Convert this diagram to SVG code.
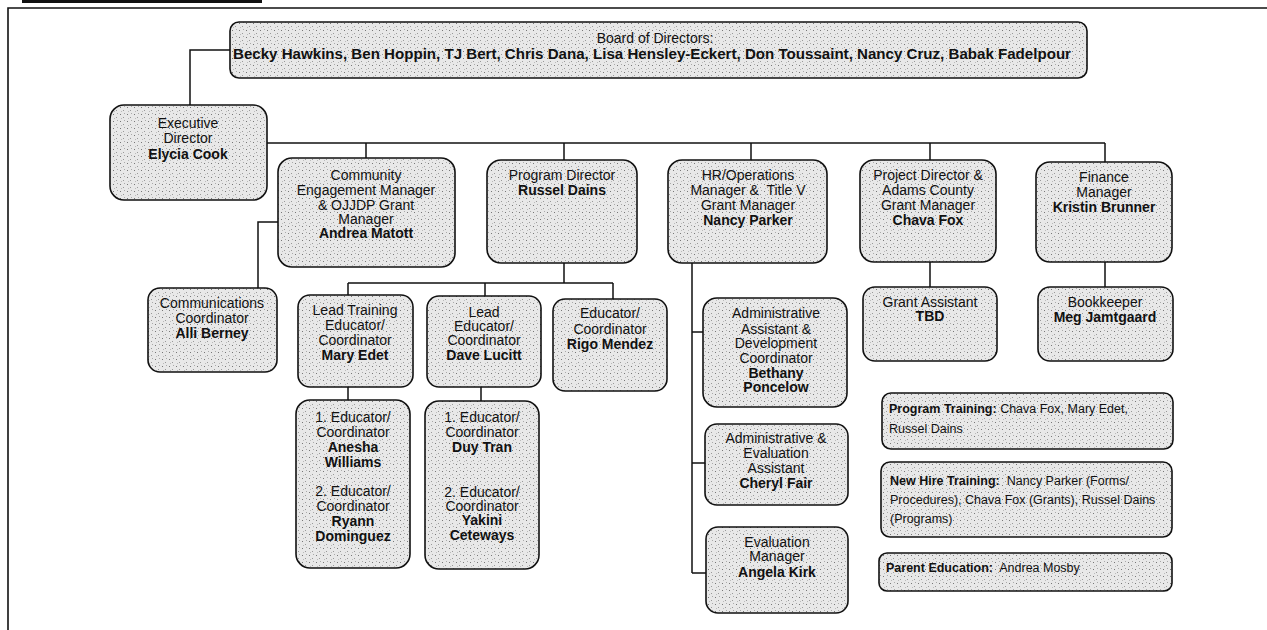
<svg xmlns="http://www.w3.org/2000/svg" width="1267" height="630" viewBox="0 0 1267 630">
<defs>
<pattern id="speck" width="7" height="7" patternUnits="userSpaceOnUse">
<rect width="7" height="7" fill="#e8e8e8"/>
<rect x="1" y="2" width="1" height="1" fill="#777"/>
<rect x="4" y="5" width="1" height="1" fill="#999"/>
<rect x="5" y="1" width="1" height="1" fill="#aaa"/>
<rect x="2" y="6" width="1" height="1" fill="#bbb"/>
</pattern>
</defs>
<style>
.box{fill:url(#speck);stroke:#111;stroke-width:1.6}
.t{font-family:"Liberation Sans",Arial,sans-serif;font-size:14px;text-anchor:middle;fill:#111}
.s{font-family:"Liberation Sans",Arial,sans-serif;font-size:12.5px;fill:#111}
.b{font-weight:bold}
.ln{fill:none;stroke:#111;stroke-width:1.5}
.frame{fill:none;stroke:#111;stroke-width:1.6}
</style>
<rect x="0" y="0" width="1267" height="630" fill="#ffffff"/>
<g id="frame">
<rect x="22" y="0" width="240" height="3" fill="#111"/>
<path class="frame" d="M8,630 V8 H1267"/>
</g>
<g id="connectors">
<path class="ln" d="M230,50 H190 V105"/>
<path class="ln" d="M267,143 H1105"/>
<path class="ln" d="M366,143 V158 M564,143 V160 M751,143 V160 M930,143 V160 M1105,143 V162"/>
<path class="ln" d="M278,222 H258 V288"/>
<path class="ln" d="M564,263 V283 M348,283 H613 M348,283 V295 M485,283 V296 M613,283 V299"/>
<path class="ln" d="M348,387 V400 M481,387 V401"/>
<path class="ln" d="M692,263 V573 M692,332 H703 M692,463 H705 M692,573 H706"/>
<path class="ln" d="M930,262 V287 M1105,262 V287"/>
</g>
<g id="board">
<rect class="box" x="230" y="22" width="857" height="56" rx="9"/>
<text class="t" x="655" y="43">Board of Directors:</text>
<text class="t b" x="652" y="59" textLength="838" lengthAdjust="spacingAndGlyphs">Becky Hawkins, Ben Hoppin, TJ Bert, Chris Dana, Lisa Hensley-Eckert, Don Toussaint, Nancy Cruz, Babak Fadelpour</text>
</g>
<g id="exec">
<rect class="box" x="110" y="105" width="157" height="95" rx="14"/>
<text class="t" x="188" y="128">Executive</text>
<text class="t" x="188" y="143">Director</text>
<text class="t b" x="188" y="159">Elycia Cook</text>
</g>
<g id="community">
<rect class="box" x="278" y="158" width="177" height="109" rx="14"/>
<text class="t" x="366" y="180">Community</text>
<text class="t" x="366" y="195">Engagement Manager</text>
<text class="t" x="366" y="210">&amp; OJJDP Grant</text>
<text class="t" x="366" y="224">Manager</text>
<text class="t b" x="366" y="238">Andrea Matott</text>
</g>
<g id="program">
<rect class="box" x="487" y="160" width="150" height="103" rx="14"/>
<text class="t" x="562" y="180">Program Director</text>
<text class="t b" x="562" y="195">Russel Dains</text>
</g>
<g id="hr">
<rect class="box" x="668" y="160" width="159" height="103" rx="14"/>
<text class="t" x="748" y="180">HR/Operations</text>
<text class="t" x="748" y="195" xml:space="preserve">Manager &amp;  Title V</text>
<text class="t" x="748" y="210">Grant Manager</text>
<text class="t b" x="748" y="225">Nancy Parker</text>
</g>
<g id="project">
<rect class="box" x="860" y="160" width="136" height="102" rx="14"/>
<text class="t" x="928" y="180">Project Director &amp;</text>
<text class="t" x="928" y="195">Adams County</text>
<text class="t" x="928" y="210">Grant Manager</text>
<text class="t b" x="928" y="225">Chava Fox</text>
</g>
<g id="finance">
<rect class="box" x="1036" y="162" width="136" height="100" rx="14"/>
<text class="t" x="1104" y="182">Finance</text>
<text class="t" x="1104" y="197">Manager</text>
<text class="t b" x="1104" y="212">Kristin Brunner</text>
</g>
<g id="comms">
<rect class="box" x="148" y="288" width="129" height="84" rx="12"/>
<text class="t" x="212" y="308">Communications</text>
<text class="t" x="212" y="323">Coordinator</text>
<text class="t b" x="212" y="338">Alli Berney</text>
</g>
<g id="leadtraining">
<rect class="box" x="298" y="295" width="115" height="92" rx="12"/>
<text class="t" x="355" y="315">Lead Training</text>
<text class="t" x="355" y="330">Educator/</text>
<text class="t" x="355" y="345">Coordinator</text>
<text class="t b" x="355" y="360">Mary Edet</text>
</g>
<g id="leadeducator">
<rect class="box" x="427" y="296" width="114" height="91" rx="12"/>
<text class="t" x="484" y="317">Lead</text>
<text class="t" x="484" y="331">Educator/</text>
<text class="t" x="484" y="345">Coordinator</text>
<text class="t b" x="484" y="360">Dave Lucitt</text>
</g>
<g id="rigo">
<rect class="box" x="553" y="299" width="114" height="92" rx="12"/>
<text class="t" x="610" y="318">Educator/</text>
<text class="t" x="610" y="334">Coordinator</text>
<text class="t b" x="610" y="349">Rigo Mendez</text>
</g>
<g id="educators1">
<rect class="box" x="296" y="400" width="114" height="168" rx="14"/>
<text class="t" x="353" y="422">1. Educator/</text>
<text class="t" x="353" y="437">Coordinator</text>
<text class="t b" x="353" y="452">Anesha</text>
<text class="t b" x="353" y="467">Williams</text>
<text class="t" x="353" y="496">2. Educator/</text>
<text class="t" x="353" y="511">Coordinator</text>
<text class="t b" x="353" y="526">Ryann</text>
<text class="t b" x="353" y="541">Dominguez</text>
</g>
<g id="educators2">
<rect class="box" x="425" y="401" width="114" height="168" rx="14"/>
<text class="t" x="482" y="422">1. Educator/</text>
<text class="t" x="482" y="437">Coordinator</text>
<text class="t b" x="482" y="452">Duy Tran</text>
<text class="t" x="482" y="497">2. Educator/</text>
<text class="t" x="482" y="511">Coordinator</text>
<text class="t b" x="482" y="525">Yakini</text>
<text class="t b" x="482" y="540">Ceteways</text>
</g>
<g id="bethany">
<rect class="box" x="703" y="298" width="144" height="109" rx="14"/>
<text class="t" x="776" y="318">Administrative</text>
<text class="t" x="776" y="334">Assistant &amp;</text>
<text class="t" x="776" y="348">Development</text>
<text class="t" x="776" y="363">Coordinator</text>
<text class="t b" x="776" y="378">Bethany</text>
<text class="t b" x="776" y="392">Poncelow</text>
</g>
<g id="cheryl">
<rect class="box" x="705" y="424" width="143" height="81" rx="12"/>
<text class="t" x="776" y="443">Administrative &amp;</text>
<text class="t" x="776" y="458">Evaluation</text>
<text class="t" x="776" y="473">Assistant</text>
<text class="t b" x="776" y="488">Cheryl Fair</text>
</g>
<g id="angela">
<rect class="box" x="706" y="527" width="142" height="86" rx="12"/>
<text class="t" x="777" y="547">Evaluation</text>
<text class="t" x="777" y="561">Manager</text>
<text class="t b" x="777" y="577">Angela Kirk</text>
</g>
<g id="grantassistant">
<rect class="box" x="863" y="287" width="134" height="74" rx="12"/>
<text class="t" x="930" y="307">Grant Assistant</text>
<text class="t b" x="930" y="321">TBD</text>
</g>
<g id="bookkeeper">
<rect class="box" x="1038" y="287" width="135" height="74" rx="12"/>
<text class="t" x="1105" y="307">Bookkeeper</text>
<text class="t b" x="1105" y="322">Meg Jamtgaard</text>
</g>
<g id="programtraining">
<rect class="box" x="882" y="393" width="291" height="56" rx="9"/>
<text class="s" x="889" y="413"><tspan class="b">Program Training:</tspan> Chava Fox, Mary Edet,</text>
<text class="s" x="889" y="433">Russel Dains</text>
</g>
<g id="newhire">
<rect class="box" x="881" y="462" width="291" height="75" rx="9"/>
<text class="s" x="890" y="485" xml:space="preserve"><tspan class="b">New Hire Training:</tspan>  Nancy Parker (Forms/</text>
<text class="s" x="890" y="504">Procedures), Chava Fox (Grants), Russel Dains</text>
<text class="s" x="890" y="523">(Programs)</text>
</g>
<g id="parent">
<rect class="box" x="879" y="553" width="293" height="38" rx="8"/>
<text class="s" x="886" y="572" xml:space="preserve"><tspan class="b">Parent Education:</tspan>  Andrea Mosby</text>
</g>
</svg>
